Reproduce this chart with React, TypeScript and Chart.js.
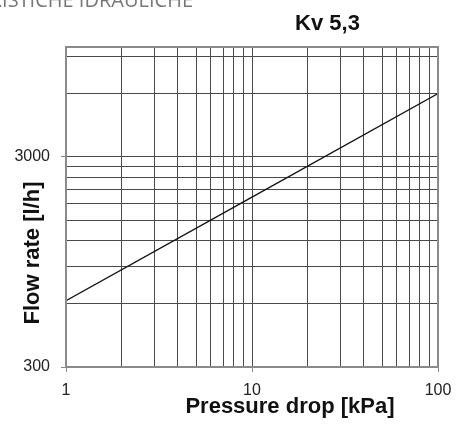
import React, { useEffect, useRef } from "react";
import { Chart, registerables } from "chart.js";

Chart.register(...registerables);

const chartTitle = "Kv 5,3";
const xTitle = "Pressure drop [kPa]";
const yTitle = "Flow rate [l/h]";
const headerText = "CARATTERISTICHE IDRAULICHE";

const pressureDrop = [1, 10, 100];
const flowRate = [620, 1930, 6000];

const xGridValues = [1, 2, 3, 4, 5, 6, 7, 8, 9, 10, 20, 30, 40, 50, 60, 70, 80, 90, 100];
const xLabelValues = [1, 10, 100];
const yGridValues = [300, 600, 900, 1200, 1500, 1800, 2100, 2400, 2700, 3000, 6000, 9000];
const yLabelValues = [300, 3000];
const xMin = 1;
const xMax = 100;
const yMin = 300;
const yMax = 10000;

const overlay = {
  id: "overlay",
  afterDraw(chart: any) {
    const { ctx } = chart;
    const { left, top, right, bottom } = chart.chartArea;
    ctx.save();
    ctx.strokeStyle = "#8a8a8a";
    ctx.lineWidth = 2;
    ctx.strokeRect(left, top, right - left, bottom - top);

    ctx.fillStyle = "#111";
    ctx.font = 'bold 22px "Liberation Sans", Arial, sans-serif';
    ctx.textAlign = "center";
    ctx.textBaseline = "middle";
    ctx.fillText(chartTitle, left + (right - left) * 0.703, 24);
    ctx.fillText(xTitle, left + (right - left) * 0.602, 407);
    ctx.save();
    ctx.translate(33, 253);
    ctx.rotate(-Math.PI / 2);
    ctx.fillText(yTitle, 0, 0);
    ctx.restore();

    ctx.fillStyle = "#777";
    ctx.font = '20px "Open Sans", sans-serif';
    ctx.textAlign = "right";
    ctx.textBaseline = "alphabetic";
    ctx.fillText(headerText, 193, 7);
    ctx.restore();
  },
};

export default function App() {
  const ref = useRef<HTMLCanvasElement | null>(null);
  useEffect(() => {
    if (!ref.current) return;
    const chart = new Chart(ref.current, {
      type: "line",
      data: {
        datasets: [
          {
            data: pressureDrop.map((x, i) => ({ x, y: flowRate[i] })),
            borderColor: "#111",
            borderWidth: 1.3,
            pointRadius: 0,
            tension: 0,
            fill: false,
          },
        ],
      },
      options: {
        animation: false,
        responsive: true,
        maintainAspectRatio: false,
        layout: { padding: { top: 47, right: 18, left: 0, bottom: 0 } },
        plugins: { legend: { display: false }, tooltip: { enabled: false }, title: { display: false } },
        scales: {
          x: {
            type: "logarithmic",
            min: xMin,
            max: xMax,
            afterBuildTicks: (scale: any) => {
              scale.ticks = xGridValues.map((v) => ({ value: v }));
            },
            afterFit: (scale: any) => {
              scale.height = 63;
              scale.paddingLeft = 0;
              scale.paddingRight = 0;
            },
            border: { display: false },
            grid: {
              color: "#4a4a4a",
              lineWidth: 1,
              drawTicks: true,
              tickLength: 5,
              tickColor: (c: any) => (xLabelValues.includes(c.tick?.value) ? "#888" : "rgba(0,0,0,0)"),
            },
            ticks: {
              autoSkip: false,
              maxRotation: 0,
              padding: 9,
              color: "#222",
              font: { family: '"Liberation Sans", Arial, sans-serif', size: 16 },
              callback: (v: any) => (xLabelValues.includes(Number(v)) ? String(v) : ""),
            },
          },
          y: {
            type: "logarithmic",
            min: yMin,
            max: yMax,
            afterBuildTicks: (scale: any) => {
              scale.ticks = yGridValues.map((v) => ({ value: v }));
            },
            afterFit: (scale: any) => {
              scale.width = 66;
              scale.paddingTop = 0;
              scale.paddingBottom = 0;
            },
            border: { display: false },
            grid: {
              color: "#4a4a4a",
              lineWidth: 1,
              drawTicks: true,
              tickLength: 5,
              tickColor: (c: any) => (yLabelValues.includes(c.tick?.value) ? "#888" : "rgba(0,0,0,0)"),
            },
            ticks: {
              autoSkip: false,
              padding: 11,
              color: "#222",
              font: { family: '"Liberation Sans", Arial, sans-serif', size: 16 },
              callback: (v: any) => (yLabelValues.includes(Number(v)) ? String(v) : ""),
            },
          },
        },
      },
      plugins: [overlay],
    });
    return () => chart.destroy();
  }, []);

  return (
    <div style={{ position: "fixed", left: 0, top: 0, width: 456, height: 430, background: "#fff" }}>
      <canvas ref={ref} />
    </div>
  );
}
